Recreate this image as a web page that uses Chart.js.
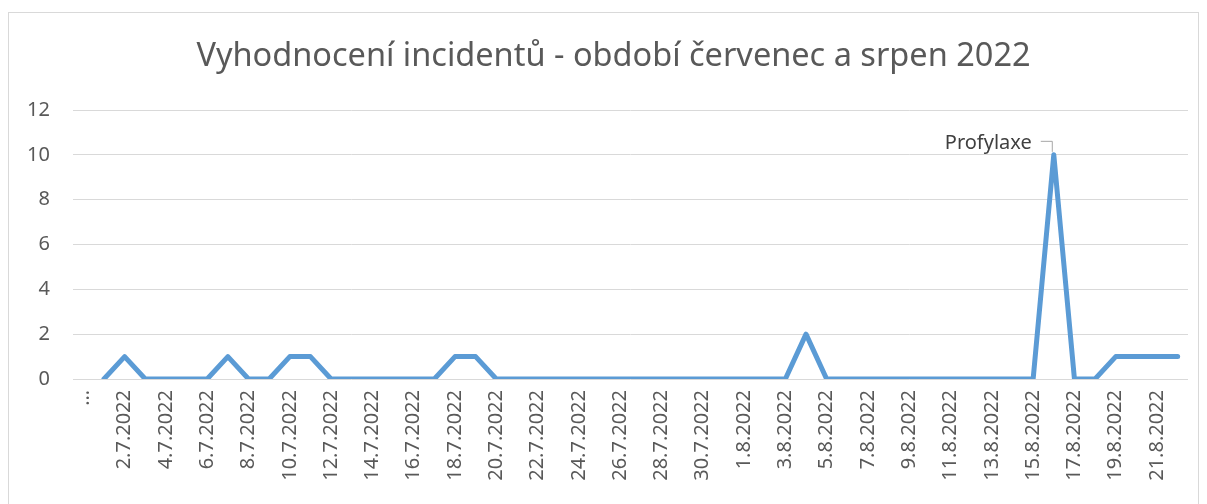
<!DOCTYPE html>
<html>
<head>
<meta charset="utf-8">
<script src="https://cdn.jsdelivr.net/npm/chart.js@4/dist/chart.umd.min.js"></script>
<style>
  html, body { margin: 0; padding: 0; background: #fff; }
  #wrap { position: absolute; left: 0; top: 0; width: 1207px; height: 504px; }
</style>
</head>
<body>
<div id="wrap"><canvas id="incident-chart"></canvas></div>
<script>
'use strict';

// DATA

let titleText = 'Vyhodnocení incidentů - období červenec a srpen 2022';

let days = [
  '…',
  '1.7.2022', '2.7.2022', '3.7.2022', '4.7.2022', '5.7.2022', '6.7.2022', '7.7.2022',
  '8.7.2022', '9.7.2022', '10.7.2022', '11.7.2022', '12.7.2022', '13.7.2022', '14.7.2022',
  '15.7.2022', '16.7.2022', '17.7.2022', '18.7.2022', '19.7.2022', '20.7.2022', '21.7.2022',
  '22.7.2022', '23.7.2022', '24.7.2022', '25.7.2022', '26.7.2022', '27.7.2022', '28.7.2022',
  '29.7.2022', '30.7.2022', '31.7.2022',
  '1.8.2022', '2.8.2022', '3.8.2022', '4.8.2022', '5.8.2022', '6.8.2022', '7.8.2022',
  '8.8.2022', '9.8.2022', '10.8.2022', '11.8.2022', '12.8.2022', '13.8.2022', '14.8.2022',
  '15.8.2022', '16.8.2022', '17.8.2022', '18.8.2022', '19.8.2022', '20.8.2022', '21.8.2022',
  '22.8.2022'
];

let incidents = [
  null,
  0, 1, 0, 0, 0, 0, 1,
  0, 0, 1, 1, 0, 0, 0,
  0, 0, 0, 1, 1, 0, 0,
  0, 0, 0, 0, 0, 0, 0,
  0, 0, 0,
  0, 0, 0, 2, 0, 0, 0,
  0, 0, 0, 0, 0, 0, 0,
  0, 10, 0, 0, 1, 1, 1,
  1
];

let yTicks = [0, 2, 4, 6, 8, 10, 12];

// one labelled point
let noteDay = '16.8.2022';
let noteText = 'Profylaxe';

// PLUGINS

// grey frame round the whole chart + the title
let framePlugin = {
  id: 'frame',
  beforeDraw(chart) {
    let c = chart.ctx;
    c.save();
    c.strokeStyle = '#d9d9d9';
    c.lineWidth = 1;
    c.strokeRect(8.5, 12.5, 1190, 500);
    c.fillStyle = '#595959';
    c.font = '32.5px "Noto Sans"';
    c.textAlign = 'center';
    c.textBaseline = 'middle';
    c.fillText(titleText, 613.5, 57);
    c.restore();
  }
};

// data label with a leader line
let notePlugin = {
  id: 'note',
  afterDatasetsDraw(chart) {
    let idx = days.indexOf(noteDay);
    let pt = chart.getDatasetMeta(0).data[idx];
    if (!pt) return;
    let c = chart.ctx;
    c.save();
    c.strokeStyle = '#a6a6a6';
    c.lineWidth = 1;
    c.beginPath();
    c.moveTo(pt.x - 13, pt.y - 13.5);
    c.lineTo(pt.x - 1.5, pt.y - 13.5);
    c.lineTo(pt.x - 1.5, pt.y - 3);
    c.stroke();
    c.fillStyle = '#404040';
    c.font = '20px "Noto Sans"';
    c.textAlign = 'right';
    c.textBaseline = 'middle';
    c.fillText(noteText, pt.x - 22, pt.y - 12);
    c.restore();
  }
};

// CHART

let ctx = document.getElementById('incident-chart');

let chartObject = {
  type: 'line',
  data: {
    labels: days,
    datasets: [{
      label: 'Incidenty',
      data: incidents,
      borderColor: '#5b9bd5',
      backgroundColor: '#5b9bd5',
      borderWidth: 5,
      borderCapStyle: 'round',
      borderJoinStyle: 'round',
      pointRadius: 0,
      tension: 0,
      spanGaps: false
    }]
  },
  options: {
    responsive: true,
    maintainAspectRatio: false,
    animation: false,
    layout: {
      padding: { left: 0, right: 19, top: 110, bottom: 0 }
    },
    plugins: {
      legend: { display: false },
      tooltip: { enabled: false },
      title: { display: false }
    },
    scales: {
      x: {
        offset: true,
        grid: { display: false, drawTicks: false },
        border: { display: false },
        ticks: {
          autoSkip: false,
          minRotation: 90,
          maxRotation: 90,
          padding: 11,
          color: '#595959',
          font: { family: '"Noto Sans"', size: 20 },
          callback: function(value, index) {
            return index % 2 === 0 ? days[index] : '';
          }
        },
        afterFit(scale) {
          scale.height = 125;
          scale.paddingLeft = 0;
          scale.paddingRight = 0;
        }
      },
      y: {
        min: 0,
        max: 12,
        afterBuildTicks(scale) {
          scale.ticks = yTicks.map(v => ({ value: v }));
        },
        grid: { color: '#d9d9d9', lineWidth: 1, drawTicks: false },
        border: { display: false },
        ticks: {
          padding: 23,
          color: '#595959',
          font: { family: '"Noto Sans"', size: 20 }
        },
        afterFit(scale) {
          scale.width = 73;
          scale.paddingTop = 0;
          scale.paddingBottom = 0;
        }
      }
    }
  },
  plugins: [framePlugin, notePlugin]
};

const incidentChart = new Chart(ctx, chartObject);
</script>
</body>
</html>
